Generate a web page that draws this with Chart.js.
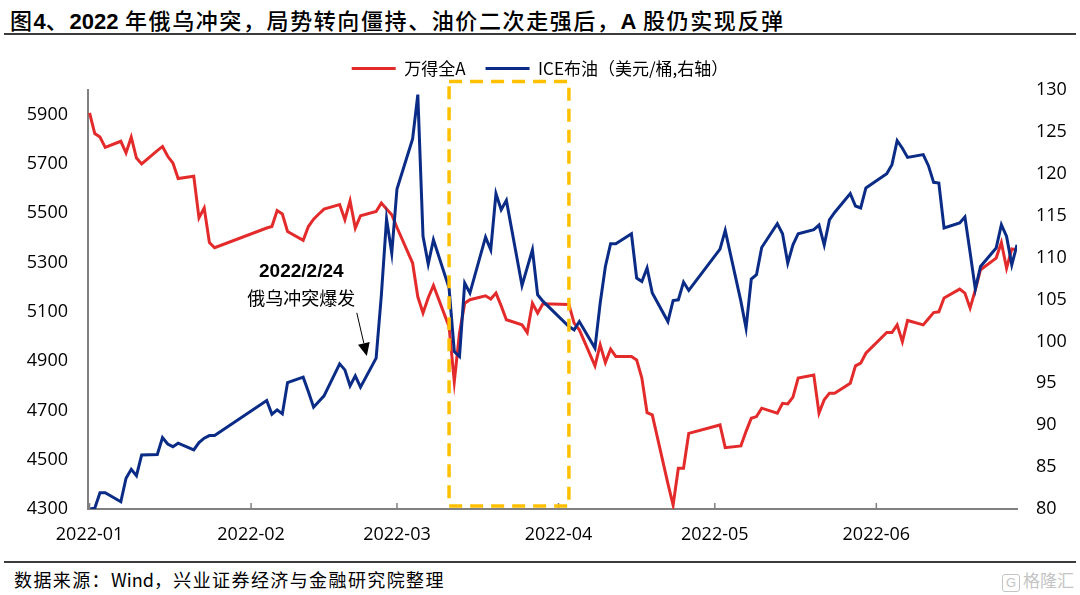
<!DOCTYPE html>
<html lang="zh-CN">
<head>
<meta charset="utf-8">
<title>图4 俄乌冲突与A股</title>
<script src="https://cdn.jsdelivr.net/npm/chart.js@4.4.1/dist/chart.umd.min.js"></script>
<style>
  html, body { margin: 0; padding: 0; background: #fff; }
  body { width: 1080px; height: 595px; position: relative; overflow: hidden; font-family: "Noto Sans CJK SC", sans-serif; color: #000; }
  #title { position: absolute; left: 10px; top: 3px; font-size: 22px; font-weight: 500; white-space: nowrap; letter-spacing: 1.6px; }
  #title b { font-family: "Liberation Sans", Arial, sans-serif; font-weight: 700; letter-spacing: 0; }
  .rule { position: absolute; left: 4px; right: 4px; height: 2px; background: #3c3c3c; }
  #box { position: absolute; left: 0; top: 40px; width: 1080px; height: 520px; }
  #source { position: absolute; left: 14px; top: 566px; font-size: 18px; letter-spacing: 1.4px; white-space: nowrap; }
  #source span { letter-spacing: 0; }
  #wm { position: absolute; right: 6px; top: 567px; font-size: 17px; color: #c4c4c4; white-space: nowrap; }
  #wm .ico { display: inline-block; border: 1.5px solid #c4c4c4; border-radius: 3px; font-size: 13px; line-height: 16px; width: 16px; text-align: center; margin-right: 3px; font-family: "Liberation Sans", sans-serif; }
</style>
</head>
<body>
<div id="title">图<b>4</b>、<b>2022</b> 年俄乌冲突，局势转向僵持、油价二次走强后，<b>A</b> 股仍实现反弹</div>
<div class="rule" style="top:33px"></div>
<div id="box"><canvas id="chart"></canvas></div>
<div class="rule" style="top:561px"></div>
<div id="source">数据来源：<span>Wind</span>，兴业证券经济与金融研究院整理</div>
<div id="wm"><span class="ico">G</span>格隆汇</div>

<script>
// trading days (A-share calendar)
const dates = [
  '2022-01-04','2022-01-05','2022-01-06','2022-01-07',
  '2022-01-10','2022-01-11','2022-01-12','2022-01-13','2022-01-14',
  '2022-01-17','2022-01-18','2022-01-19','2022-01-20','2022-01-21',
  '2022-01-24','2022-01-25','2022-01-26','2022-01-27','2022-01-28',
  '2022-02-07','2022-02-08','2022-02-09','2022-02-10','2022-02-11',
  '2022-02-14','2022-02-15','2022-02-16','2022-02-17','2022-02-18',
  '2022-02-21','2022-02-22','2022-02-23','2022-02-24','2022-02-25',
  '2022-02-28','2022-03-01','2022-03-02','2022-03-03','2022-03-04',
  '2022-03-07','2022-03-08','2022-03-09','2022-03-10','2022-03-11',
  '2022-03-14','2022-03-15','2022-03-16','2022-03-17','2022-03-18',
  '2022-03-21','2022-03-22','2022-03-23','2022-03-24','2022-03-25',
  '2022-03-28','2022-03-29','2022-03-30','2022-03-31','2022-04-01',
  '2022-04-06','2022-04-07','2022-04-08',
  '2022-04-11','2022-04-12','2022-04-13','2022-04-14','2022-04-15',
  '2022-04-18','2022-04-19','2022-04-20','2022-04-21','2022-04-22',
  '2022-04-25','2022-04-26','2022-04-27','2022-04-28','2022-04-29',
  '2022-05-05','2022-05-06',
  '2022-05-09','2022-05-10','2022-05-11','2022-05-12','2022-05-13',
  '2022-05-16','2022-05-17','2022-05-18','2022-05-19','2022-05-20',
  '2022-05-23','2022-05-24','2022-05-25','2022-05-26','2022-05-27',
  '2022-05-30','2022-05-31','2022-06-01','2022-06-02',
  '2022-06-06','2022-06-07','2022-06-08','2022-06-09','2022-06-10',
  '2022-06-13','2022-06-14','2022-06-15','2022-06-16','2022-06-17',
  '2022-06-20','2022-06-21','2022-06-22','2022-06-23','2022-06-24',
  '2022-06-27','2022-06-28','2022-06-29','2022-06-30','2022-07-01'
];

// 万得全A (left axis)
const windA = [
  5907, 5823, 5809, 5767, 5792, 5745, 5809, 5724, 5700, 5754, 5771, 5731, 5704, 5641, 5650, 5481, 5521, 5381, 5360,
  5440, 5446, 5511, 5497, 5426, 5390, 5446, 5476, 5497, 5517, 5535, 5474, 5550, 5440, 5490, 5507,
  5541, 5517, 5494, 5442, 5298, 5161, 5095, 5157, 5207, 5040, 4817, 5014, 5135, 5149, 5165, 5152, 5176, 5124, 5068, 5047, 5016, 5135, 5095,
  5133, 5130, 5054, 5027, 4881, 4966, 4894, 4949, 4919, 4919, 4905, 4831, 4691, 4682, 4403, 4316, 4465, 4465, 4607,
  4641, 4549, 4556, 4615, 4668, 4675, 4709, 4689, 4729, 4726, 4754, 4831, 4844, 4689, 4743, 4770, 4770, 4810, 4881,
  4892, 4932, 5016, 5016, 5047, 4979, 5065, 5047, 5072, 5097, 5100, 5156, 5192, 5176, 5115, 5189, 5271, 5318, 5381, 5277, 5355,
  5352
];

// ICE布油 (right axis)
const brent = [
  80.0, 80.1, 81.95, 81.95, 80.87, 83.67, 84.74, 83.98, 86.45, 86.5, 88.52, 87.76, 87.44, 87.85, 87.05, 87.92, 88.45, 88.76, 88.76,
  92.94, 91.31, 91.83, 91.35, 95.09, 95.73, 94.0, 92.15, 92.83, 93.5, 97.32, 96.6, 94.69, 95.89, 94.54, 98.0,
  105.5, 114.6, 110.54, 118.19, 124.16, 129.45, 112.53, 109.23, 112.13, 106.36, 98.8, 98.2, 106.96, 105.77, 112.45, 110.94, 117.63, 115.72, 116.83, 106.67, 108.8, 110.94, 105.56,
  104.8, 101.78, 101.38, 102.37, 99.2, 104.56, 108.94, 111.65, 111.65, 112.85, 107.56, 107.15, 108.75, 105.77, 102.37, 104.88, 104.96, 107.08, 106.08,
  111.02, 113.24, 104.81, 101.58, 107.44, 107.95, 111.21, 114.04, 112.85, 109.35, 111.53, 112.85, 113.33, 113.88, 111.5, 114.49, 115.38, 117.63, 116.16,
  115.92, 118.31, 120.02, 121.09, 123.96, 123.05, 121.96, 122.29, 120.97, 118.98, 118.9, 113.53, 114.13, 114.84, 110.6, 106.24, 108.94, 111.14, 113.92, 112.53, 109.15,
  111.53
];

const leftTicks = [4300, 4500, 4700, 4900, 5100, 5300, 5500, 5700, 5900];
const monthTickDates = ['2022-01-04', '2022-02-04', '2022-03-04', '2022-04-04', '2022-05-04', '2022-06-04'];
const monthLabels = ['2022-01', '2022-02', '2022-03', '2022-04', '2022-05', '2022-06'];

// highlighted period (dashed box) and the event note
const boxDates = ['2022-03-14', '2022-04-06'];
const boxRange = [4312, 6034];
const note = { date: '2022-02-24', head: '2022/2/24', text: '俄乌冲突爆发' };

const DAY = 864e5;
const t0 = Date.parse(dates[0]);
const dayOf = d => (Date.parse(d) - t0) / DAY;

const RED = '#E42B2C';
const BLUE = '#0B2C86';
const AXIS = '#808080';
const tickFont = { family: '"Open Sans", sans-serif', size: 18 };

// legend a bit taller so the plot starts at the right place
const legendPad = {
  id: 'legendPad',
  beforeInit(chart) {
    const fit = chart.legend.fit;
    chart.legend.fit = function () { fit.call(this); this.height += 3; };
  }
};

const extras = {
  id: 'extras',
  afterDatasetsDraw(chart) {
    const { ctx, chartArea, scales: { x, y } } = chart;
    ctx.save();

    // month ticks pointing into the plot
    ctx.strokeStyle = AXIS;
    ctx.lineWidth = 1.5;
    x.ticks.forEach(t => {
      const px = x.getPixelForValue(t.value);
      ctx.beginPath();
      ctx.moveTo(px, chartArea.bottom);
      ctx.lineTo(px, chartArea.bottom - 6);
      ctx.stroke();
    });

    // dashed box
    const bx0 = x.getPixelForValue(dayOf(boxDates[0]));
    const bx1 = x.getPixelForValue(dayOf(boxDates[1]));
    const by0 = y.getPixelForValue(boxRange[1]);
    const by1 = y.getPixelForValue(boxRange[0]);
    ctx.setLineDash([13, 8]);
    ctx.lineWidth = 3.5;
    ctx.strokeStyle = '#FFC000';
    ctx.strokeRect(bx0, by0, bx1 - bx0, by1 - by0);
    ctx.setLineDash([]);

    // note + arrow
    const ax = x.getPixelForValue(dayOf(note.date));
    ctx.fillStyle = '#000';
    ctx.textAlign = 'center';
    ctx.textBaseline = 'middle';
    ctx.font = 'bold 19px "Liberation Sans", Arial, sans-serif';
    ctx.fillText(note.head, ax - 54, y.getPixelForValue(5262));
    ctx.font = '18px "Noto Sans CJK SC", sans-serif';
    ctx.fillText(note.text, ax - 54, y.getPixelForValue(5157));

    const x1 = ax + 1.5, y1 = y.getPixelForValue(5096);
    const x2 = ax + 11.5, y2 = y.getPixelForValue(4921);
    const ang = Math.atan2(y2 - y1, x2 - x1);
    const hl = 13, hw = 6;
    const bxh = x2 - Math.cos(ang) * hl, byh = y2 - Math.sin(ang) * hl;
    ctx.strokeStyle = '#000';
    ctx.lineWidth = 1;
    ctx.beginPath();
    ctx.moveTo(x1, y1);
    ctx.lineTo(bxh, byh);
    ctx.stroke();
    ctx.beginPath();
    ctx.moveTo(x2, y2);
    ctx.lineTo(bxh + Math.sin(ang) * hw, byh - Math.cos(ang) * hw);
    ctx.lineTo(bxh - Math.sin(ang) * hw, byh + Math.cos(ang) * hw);
    ctx.closePath();
    ctx.fill();

    ctx.restore();
  }
};

new Chart(document.getElementById('chart'), {
  type: 'line',
  data: {
    datasets: [
      {
        label: '万得全A',
        data: dates.map((d, i) => ({ x: dayOf(d), y: windA[i] })),
        borderColor: RED,
        backgroundColor: RED,
        borderWidth: 3,
        pointRadius: 0,
        tension: 0,
        yAxisID: 'y',
        order: 2
      },
      {
        label: 'ICE布油（美元/桶,右轴）',
        data: dates.map((d, i) => ({ x: dayOf(d), y: brent[i] })),
        borderColor: BLUE,
        backgroundColor: BLUE,
        borderWidth: 3,
        pointRadius: 0,
        tension: 0,
        yAxisID: 'y2',
        order: 1
      }
    ]
  },
  options: {
    responsive: true,
    maintainAspectRatio: false,
    animation: false,
    layout: { padding: 0 },
    plugins: {
      legend: {
        position: 'top',
        labels: {
          usePointStyle: true,
          pointStyle: 'line',
          pointStyleWidth: 44,
          padding: 20,
          color: '#000',
          font: { family: '"Noto Sans CJK SC", sans-serif', size: 17 },
          sort: (a, b) => a.datasetIndex - b.datasetIndex
        }
      },
      tooltip: { enabled: false }
    },
    scales: {
      x: {
        type: 'linear',
        min: -0.3,
        max: 178,
        afterBuildTicks: s => { s.ticks = monthTickDates.map(d => ({ value: dayOf(d) })); },
        afterFit: s => { s.height = 51; },
        ticks: {
          autoSkip: false,
          maxRotation: 0,
          padding: 15,
          color: '#000',
          font: tickFont,
          callback: (v, i) => monthLabels[i]
        },
        grid: { drawOnChartArea: false, drawTicks: false },
        border: { display: true, color: AXIS, width: 2 }
      },
      y: {
        position: 'left',
        min: 4300,
        max: 6000,
        afterBuildTicks: s => { s.ticks = leftTicks.map(v => ({ value: v })); },
        afterFit: s => { s.width = 88; },
        ticks: { padding: 20, color: '#000', font: tickFont, callback: v => String(v) },
        grid: { drawOnChartArea: false, drawTicks: false },
        border: { display: true, color: AXIS, width: 2 }
      },
      y2: {
        position: 'right',
        min: 80,
        max: 130,
        ticks: { stepSize: 5, padding: 19, color: '#000', font: tickFont },
        afterFit: s => { s.width = 63; },
        grid: { drawOnChartArea: false, drawTicks: false },
        border: { display: false }
      }
    }
  },
  plugins: [legendPad, extras]
});
</script>
</body>
</html>
